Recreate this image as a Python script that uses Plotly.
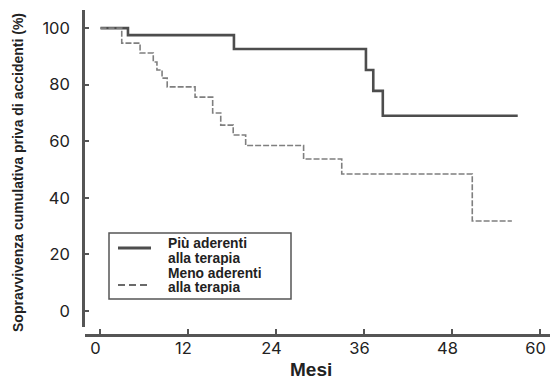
import plotly.graph_objects as go

# Kaplan-Meier style step data (months, % event-free)
more_adherent_months = [0, 3.75, 18.2, 36.2, 37.2, 38.5, 56.9]
more_adherent_surv = [100, 97.5, 92.6, 85.2, 77.8, 69.0, 69.0]

less_adherent_months = [0, 2.9, 5.4, 7.2, 7.7, 8.4, 9.1, 12.9, 15.3, 16.4, 18.1, 19.8, 27.7, 32.9, 50.7, 56.1]
less_adherent_surv = [100, 94.7, 91.2, 88.0, 85.2, 82.3, 79.2, 75.6, 70.0, 65.7, 62.2, 58.5, 53.7, 48.4, 31.8, 31.8]

x_ticks = [0, 12, 24, 36, 48, 60]
y_ticks = [0, 20, 40, 60, 80, 100]

legend_lines = [["Più aderenti", "alla terapia"], ["Meno aderenti", "alla terapia"]]
x_title = "Mesi"
y_title = "Sopravvivenza cumulativa priva di accidenti (%)"

W, H = 550, 381
ML, MR, MT, MB = 83, 0, 10, 46
PW = W - ML - MR
PH = H - MT - MB


def px_x(p):
    return (p - ML) / PW


def px_y(p):
    return 1 - (p - MT) / PH


XR = [-2.11, 61.3]
label_shift = 0.68  # tick labels sit slightly left of their tick marks

SOLID = dict(color="#4d4d4d", width=2.6)
DASHED = dict(color="#7f7f7f", width=1.6, dash="6px,2px")

fig = go.Figure()
fig.add_trace(go.Scatter(
    x=more_adherent_months, y=more_adherent_surv, mode="lines",
    line=dict(shape="hv", **SOLID), name=" ".join(legend_lines[0]), showlegend=False))
fig.add_trace(go.Scatter(
    x=less_adherent_months, y=less_adherent_surv, mode="lines",
    line=dict(shape="hv", **DASHED), name=" ".join(legend_lines[1]), showlegend=False))
# empty helper trace so the label-only axis is drawn
fig.add_trace(go.Scatter(x=[], y=[], xaxis="x2", yaxis="y", mode="lines",
                         showlegend=False, hoverinfo="skip"))

tick_font = dict(family="Inter, Liberation Sans, Arial, sans-serif", size=16.5, color="#222")
bold_font = "Liberation Sans, Arial, sans-serif"

xdom = [2 / PW, 1]
fig.update_layout(
    width=W, height=H,
    margin=dict(l=ML, r=MR, t=MT, b=MB, autoexpand=False),
    paper_bgcolor="white", plot_bgcolor="white",
    font=dict(family=bold_font, color="#222"),
    showlegend=False,
    xaxis=dict(
        domain=xdom, range=XR,
        tickvals=x_ticks, showticklabels=False,
        ticks="inside", ticklen=5, tickwidth=2, tickcolor="#555",
        showline=True, linecolor="#555", linewidth=2.5,
        showgrid=False, zeroline=False,
        anchor="free", position=0,
    ),
    xaxis2=dict(
        domain=xdom, range=[XR[0] + label_shift, XR[1] + label_shift],
        overlaying="x", anchor="free", position=0, side="bottom",
        tickvals=x_ticks, ticktext=[str(v) for v in x_ticks],
        ticks="", showline=False, showgrid=False, zeroline=False,
        tickfont=tick_font, ticklabelstandoff=1,
    ),
    yaxis=dict(
        domain=[8 / PH, 1], range=[-5.7, 106.4],
        tickvals=y_ticks, ticktext=[str(v) for v in y_ticks],
        ticks="inside", ticklen=4, tickwidth=2, tickcolor="#555",
        showline=True, linecolor="#555", linewidth=2.5,
        showgrid=False, zeroline=False, tickfont=tick_font,
        anchor="free", position=0, ticklabelstandoff=9,
    ),
)

# manual legend box
shapes = [
    dict(type="rect", xref="paper", yref="paper",
         x0=px_x(109), x1=px_x(291), y0=px_y(299), y1=px_y(233),
         line=dict(color="#555", width=1.5), fillcolor="white", layer="above"),
    dict(type="line", xref="paper", yref="paper",
         x0=px_x(118), x1=px_x(151), y0=px_y(248), y1=px_y(248),
         line=dict(color="#4d4d4d", width=3), layer="above"),
    dict(type="line", xref="paper", yref="paper",
         x0=px_x(118), x1=px_x(151), y0=px_y(285), y1=px_y(285),
         line=dict(color="#6a6a6a", width=2.2, dash="7px,4px"), layer="above"),
]

annotations = []
line_centres = [243, 257.5, 272.5, 286.5]
flat_lines = [t for pair in legend_lines for t in pair]
for txt, yc in zip(flat_lines, line_centres):
    annotations.append(dict(
        text="<b>%s</b>" % txt, x=px_x(167), y=px_y(yc), xref="paper", yref="paper",
        xanchor="left", yanchor="middle", showarrow=False,
        height=14, borderpad=0, valign="middle",
        font=dict(family=bold_font, size=13.8, color="#222")))

annotations.append(dict(
    text="<b>%s</b>" % x_title, x=px_x(311), y=px_y(369), xref="paper", yref="paper",
    xanchor="center", yanchor="middle", showarrow=False,
    font=dict(family=bold_font, size=19, color="#222")))
annotations.append(dict(
    text="<b>%s</b>" % y_title, textangle=-90,
    x=px_x(18), y=px_y(173), xref="paper", yref="paper",
    xanchor="center", yanchor="middle", showarrow=False,
    font=dict(family=bold_font, size=14, color="#222")))

fig.update_layout(shapes=shapes, annotations=annotations)

fig.write_html("out.html", post_script="document.body.style.margin='0';",
               config={"displayModeBar": False})
